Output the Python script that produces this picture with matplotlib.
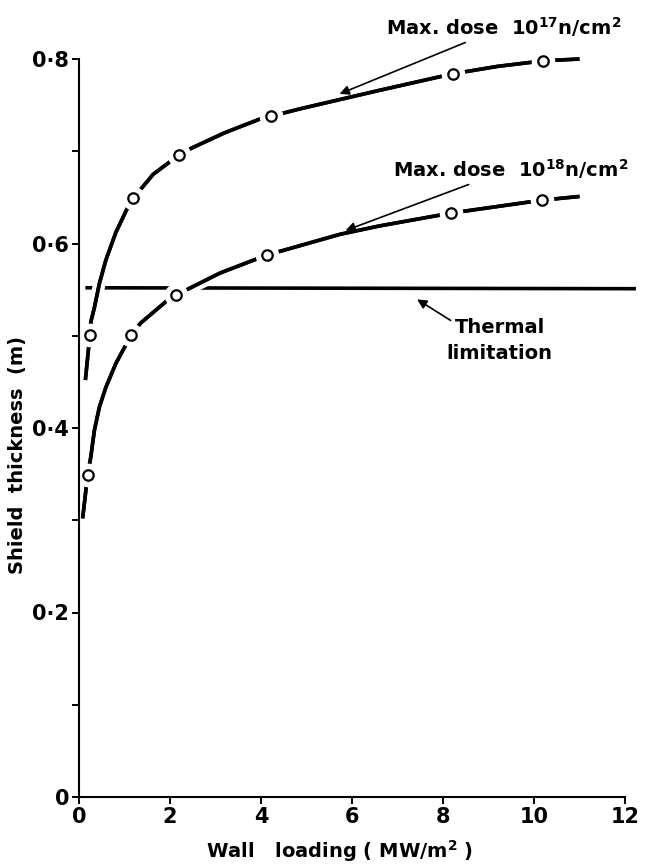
import matplotlib.pyplot as plt
import matplotlib.patheffects as pe
from matplotlib.ticker import FixedLocator, FixedFormatter

plt.rcParams['font.family'] = ['DejaVu Sans']
plt.rcParams['mathtext.default'] = 'regular'

# dose 10^17 curve and its marked points
x17 = [0.14, 0.24, 0.26, 0.34, 0.45, 0.59, 0.81, 1.07, 1.19, 1.63, 2.2, 2.5, 3.2, 3.98, 4.22, 4.86, 6.6, 8.22, 9.2, 10.2, 11.0]
y17 = [0.452, 0.501, 0.515, 0.531, 0.557, 0.582, 0.612, 0.639, 0.649, 0.675, 0.696, 0.704, 0.72, 0.735, 0.738, 0.746, 0.766, 0.784, 0.792, 0.798, 0.80]
mx17 = [0.24, 1.19, 2.2, 4.22, 8.22, 10.2]
my17 = [0.501, 0.649, 0.696, 0.738, 0.784, 0.798]

# dose 10^18 curve
x18 = [0.08, 0.19, 0.26, 0.34, 0.45, 0.59, 0.81, 1.03, 1.14, 1.36, 1.91, 2.13, 3.1, 4.13, 5.74, 6.6, 8.18, 10.18, 11.0]
y18 = [0.302, 0.349, 0.369, 0.398, 0.423, 0.444, 0.470, 0.490, 0.501, 0.514, 0.537, 0.544, 0.568, 0.5875, 0.610, 0.619, 0.633, 0.647, 0.651]
mx18 = [0.19, 1.14, 2.13, 4.13, 8.18, 10.18]
my18 = [0.349, 0.501, 0.544, 0.5875, 0.633, 0.647]

# thermal limitation
thermal_x = [0.18, 12.2]
thermal_y = [0.552, 0.551]

yticks = [0, 0.2, 0.4, 0.6, 0.8]
ylabels = ['0', '0·2', '0·4', '0·6', '0·8']
xticks = [0, 2, 4, 6, 8, 10, 12]
xlabels = ['0', '2', '4', '6', '8', '10', '12']

fig = plt.figure(figsize=(6.49, 8.66), dpi=100)
ax = fig.add_axes([79/649, 1-797/866, 546/649, 738/866])

ax.plot(thermal_x, thermal_y, color='black', lw=2.6, zorder=2, clip_on=False)

halo = [pe.withStroke(linewidth=9, foreground='white'), pe.Normal()]
for xs, ys in [(x17, y17), (x18, y18)]:
    ax.plot(xs, ys, color='black', lw=2.6, solid_capstyle='butt', zorder=3,
            clip_on=False, path_effects=halo)

for mx, my in [(mx17, my17), (mx18, my18)]:
    ax.plot(mx, my, 'o', ms=16, color='white', zorder=4, clip_on=False)
    ax.plot(mx, my, 'o', ms=7.5, mfc='white', mec='black', mew=1.6, zorder=7, clip_on=False)

ax.set_xlim(0, 12)
ax.set_ylim(0, 0.8)
for s in ['top', 'right']:
    ax.spines[s].set_visible(False)
for s in ['left', 'bottom']:
    ax.spines[s].set_linewidth(1.5)
    ax.spines[s].set_zorder(6)

ax.xaxis.set_major_locator(FixedLocator(xticks))
ax.xaxis.set_major_formatter(FixedFormatter(xlabels))
ax.yaxis.set_major_locator(FixedLocator(yticks))
ax.yaxis.set_major_formatter(FixedFormatter(ylabels))
ax.yaxis.set_minor_locator(FixedLocator([0.1, 0.3, 0.5, 0.7]))
ax.tick_params(axis='both', which='major', length=5, width=1.4, labelsize=15, pad=2)
ax.tick_params(axis='y', which='minor', length=5, width=1.4)
for t in ax.get_xticklabels() + ax.get_yticklabels():
    t.set_fontweight('bold')

lbl = dict(fontsize=14, fontweight='bold')
fig.text(18/649, 1-455/866, 'Shield  thickness  (m)', rotation=90, ha='center', va='center', **lbl)
fig.text(340/649, 1-851/866, 'Wall   loading ( MW/m$^2$ )', ha='center', va='center', **lbl)

arr = dict(arrowstyle='-|>', color='black', lw=1.2, mutation_scale=14)
ax.annotate('Max. dose  10$^{17}$n/cm$^2$', xy=(5.67, 0.761), xytext=(6.75, 0.822),
            ha='left', va='bottom', arrowprops=arr, annotation_clip=False, **lbl)
ax.annotate('Max. dose  10$^{18}$n/cm$^2$', xy=(5.8, 0.613), xytext=(6.9, 0.668),
            ha='left', va='bottom', arrowprops=arr, annotation_clip=False, **lbl)
ax.annotate('', xy=(7.38, 0.541), xytext=(8.22, 0.515), arrowprops=arr)
ax.text(9.25, 0.495, 'Thermal\nlimitation', ha='center', va='center',
        linespacing=1.5, **lbl)

fig.savefig('out.png', dpi=100)
